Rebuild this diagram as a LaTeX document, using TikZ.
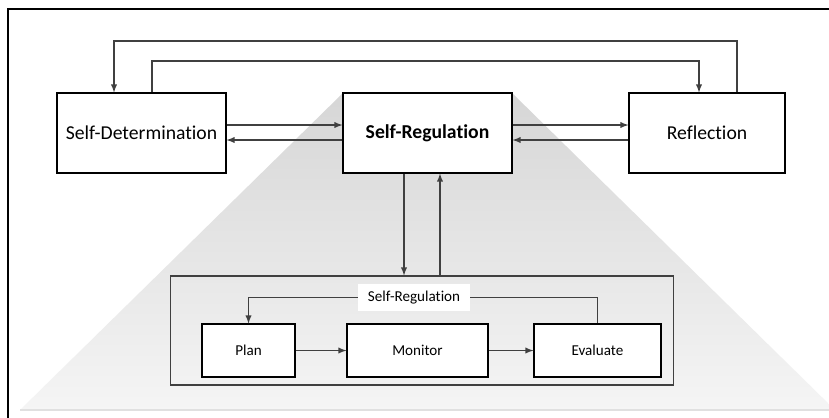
\documentclass[tikz,border=0pt]{standalone}
\usepackage{fontspec}
\setmainfont{Carlito}[Ligatures=NoCommon]
\usepackage{xcolor}
\definecolor{linegray}{RGB}{64,64,64}
\usetikzlibrary{positioning}
\usetikzlibrary{calc}

\begin{document}
\begin{tikzpicture}[x=0.02cm, y=-0.02cm, >=latex,
	bigbox/.style={draw=black, fill=white, line width=0.6pt, minimum height=1.6cm, inner sep=0pt, font=\fontsize{11.2}{13}\selectfont},
	smallbox/.style={draw=black, fill=white, line width=0.6pt, minimum height=1.06cm, inner sep=0pt, font=\fontsize{8.6}{10}\selectfont},
	conn/.style={draw=linegray, line width=0.6pt}]
		%page area
		\clip (0,0) rectangle (829,417);
		\fill[white] (0,0) rectangle (829,417);
		
		%grey zoom shade
		\shade[top color=black!16, bottom color=black!4] (343,93) -- (512,93) -- (835,410) -- (20,410) -- cycle;
		\draw[black!12, line width=0.6pt] (20,410) -- (835,410);
		
		%outer frame
		\draw[black, line width=0.6pt] (8,425) |- (840,9);
		
		%top boxes
		\node[bigbox, minimum width=3.38cm] (det) at (141.5,133) {Self-Determination};
		\node[bigbox, minimum width=3.38cm, font=\fontsize{11.2}{13}\selectfont\bfseries] (reg) at (427.5,133) {Self-Regulation};
		\node[bigbox, minimum width=3.12cm] (refl) at (707,133) {Reflection};
		
		%inner frame & steps
		\node[draw=linegray, line width=0.6pt, minimum width=10.08cm, minimum height=2.18cm, inner sep=0pt] (cycle) at (422,330.5) {};
		\node[fill=white, minimum width=2.24cm, minimum height=0.54cm, inner sep=0pt, font=\fontsize{8.6}{10}\selectfont] (lbl) at (414,297.5) {Self-Regulation};
		\node[smallbox, minimum width=1.86cm] (plan) at (248.5,350.5) {Plan};
		\node[smallbox, minimum width=2.82cm] (mon) at (417.5,350.5) {Monitor};
		\node[smallbox, minimum width=2.54cm] (eval) at (597.5,350.5) {Evaluate};
		
		%arrows between top boxes
		\draw[conn, ->] ([yshift=0.16cm]det.east) -- ([yshift=0.16cm]reg.west);
		\draw[conn, ->] ([yshift=-0.14cm]reg.west) -- ([yshift=-0.14cm]det.east);
		\draw[conn, ->] ([yshift=0.16cm]reg.east) -- ([yshift=0.16cm]refl.west);
		\draw[conn, ->] ([yshift=-0.14cm]refl.west) -- ([yshift=-0.14cm]reg.east);
		
		%loops over the top
		\coordinate (loopA) at (0,41);
		\coordinate (loopB) at (0,61);
		\draw[conn, ->] ([xshift=0.6cm]refl.north) -- ([xshift=0.6cm]refl.north |- loopA) -| ([xshift=-0.55cm]det.north);
		\draw[conn, ->] ([xshift=0.21cm]det.north) -- ([xshift=0.21cm]det.north |- loopB) -| ([xshift=-0.16cm]refl.north);
		
		%down into the cycle and back up
		\draw[conn, ->] ([xshift=-0.47cm]reg.south) -- ([xshift=-0.47cm]reg.south |- cycle.north);
		\draw[conn, ->] ([xshift=0.25cm]reg.south |- cycle.north) -- ([xshift=0.25cm]reg.south);
		
		%inner cycle
		\draw[conn] (lbl.east) -| (eval.north);
		\draw[conn, ->] (lbl.west) -| (plan.north);
		\draw[conn, ->] (plan) -- (mon);
		\draw[conn, ->] (mon) -- (eval);
	\end{tikzpicture}
\end{document}
